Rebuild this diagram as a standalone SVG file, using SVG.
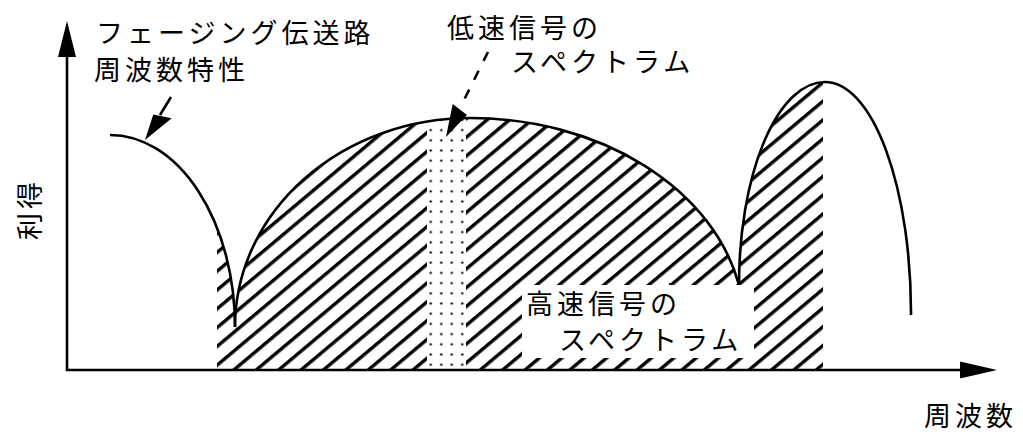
<svg xmlns="http://www.w3.org/2000/svg" width="1023" height="435" viewBox="0 0 1023 435">
  <style>
    .t { font-family: "Noto Sans CJK JP", "Noto Sans CJK SC", sans-serif; font-size: 27px; letter-spacing: 4px; fill: #000; }
    .curve { fill: none; stroke: #000; stroke-width: 2.6; }
    .axis { fill: none; stroke: #000; stroke-width: 2.6; }
    .ptr { fill: none; stroke: #000; stroke-width: 2.6; }
  </style>
  <defs>
    <pattern id="hatch" patternUnits="userSpaceOnUse" width="20" height="14.4" patternTransform="rotate(-40)">
      <rect x="0" y="0" width="20" height="3.4" fill="#000"/>
    </pattern>
    <pattern id="dots" patternUnits="userSpaceOnUse" x="425.5" y="125" width="10.5" height="10.2">
      <circle cx="5.25" cy="5.1" r="1.15" fill="#000"/>
    </pattern>
    <clipPath id="spec">
      <path d="M217,371 L217,228 A125,192 0 0 1 235,327 A235,209 0 0 1 470,118 A274.5,209 0 0 1 739,285 A86,203 0 0 1 825,82 L823,82 L823,371 Z"/>
    </clipPath>
    <mask id="holes" maskUnits="userSpaceOnUse" x="0" y="0" width="1023" height="435">
      <rect x="0" y="0" width="1023" height="435" fill="#fff"/>
      <rect x="427" y="0" width="39" height="435" fill="#000"/>
      <rect x="522" y="285" width="232" height="73" fill="#000"/>
    </mask>
  </defs>

  <g id="high-speed-spectrum" clip-path="url(#spec)">
    <rect x="200" y="60" width="640" height="320" fill="url(#hatch)" mask="url(#holes)"/>
  </g>
  <g id="low-speed-spectrum" clip-path="url(#spec)">
    <rect x="427" y="100" width="39" height="268" fill="url(#dots)"/>
  </g>

  <g id="fading-response">
    <path class="curve" d="M110,135 A125,192 0 0 1 235,327"/>
    <path class="curve" d="M235,327 A235,209 0 0 1 470,118 A274.5,209 0 0 1 739,285"/>
    <path class="curve" d="M739,285 A86,203 0 0 1 825,82 A86,231 0 0 1 911,315"/>
  </g>

  <g id="axes">
    <line class="axis" x1="67" y1="371" x2="67" y2="55"/>
    <polygon points="67,21 58,57 76,57" fill="#000"/>
    <line class="axis" x1="66" y1="370" x2="962" y2="370"/>
    <polygon points="997,370 960,361.5 960,378.5" fill="#000"/>
  </g>

  <g id="connectors">
    <line class="ptr" x1="171" y1="97" x2="160" y2="115"/>
    <polygon points="145,140 153.3,114.5 171.7,118.3" fill="#000"/>
    <line class="ptr" x1="488" y1="52" x2="460" y2="108" stroke-dasharray="10 11"/>
    <polygon points="446,137 452.7,104 467,115" fill="#000"/>
  </g>

  <g id="label-fading">
    <text class="t" x="96" y="43">フェージング伝送路</text>
    <text class="t" x="94" y="80">周波数特性</text>
  </g>
  <g id="label-low">
    <text class="t" x="447" y="38">低速信号の</text>
    <text class="t" x="511" y="72">スペクトラム</text>
  </g>
  <g id="label-high">
    <text class="t" x="526" y="314">高速信号の</text>
    <text class="t" x="559" y="350">スペクトラム</text>
  </g>
  <g id="label-axes">
    <text class="t" x="924" y="426">周波数</text>
    <text class="t" transform="translate(40,240) rotate(-90)">利得</text>
  </g>
</svg>
